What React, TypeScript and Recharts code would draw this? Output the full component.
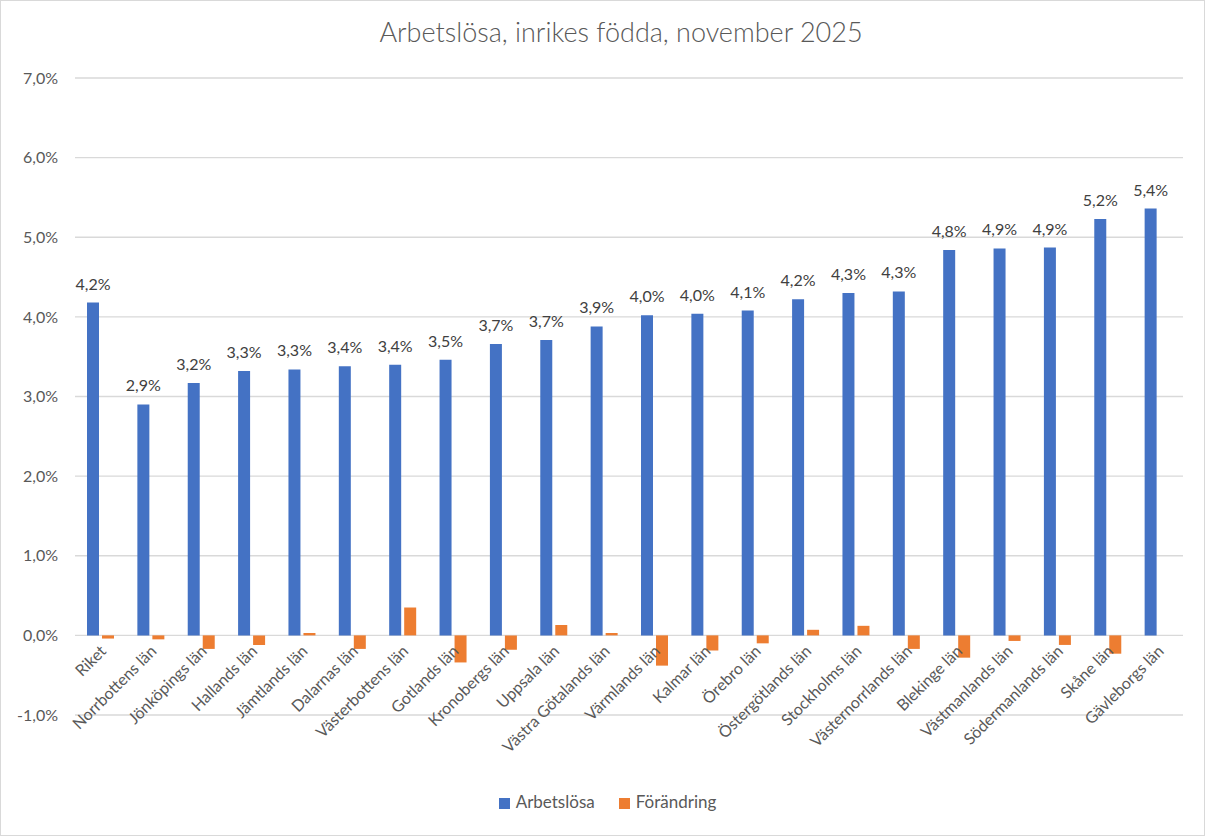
import { BarChart, Bar, XAxis, YAxis, CartesianGrid, Legend, LabelList } from "recharts";

const CATEGORIES = [
  "Riket",
  "Norrbottens län",
  "Jönköpings län",
  "Hallands län",
  "Jämtlands län",
  "Dalarnas län",
  "Västerbottens län",
  "Gotlands län",
  "Kronobergs län",
  "Uppsala län",
  "Västra Götalands län",
  "Värmlands län",
  "Kalmar län",
  "Örebro län",
  "Östergötlands län",
  "Stockholms län",
  "Västernorrlands län",
  "Blekinge län",
  "Västmanlands län",
  "Södermanlands län",
  "Skåne län",
  "Gävleborgs län",
];

// percent
const ARBETSLOSA = [
  4.18, 2.9, 3.17, 3.32, 3.34, 3.38, 3.4, 3.46, 3.66, 3.71, 3.88, 4.02, 4.04,
  4.08, 4.22, 4.3, 4.32, 4.84, 4.86, 4.87, 5.23, 5.36,
];
const FORANDRING = [
  -0.04, -0.05, -0.17, -0.12, 0.03, -0.17, 0.35, -0.34, -0.18, 0.13, 0.03,
  -0.38, -0.19, -0.1, 0.07, 0.12, -0.17, -0.28, -0.07, -0.12, -0.23, 0,
];
const Y_TICKS = [-1, 0, 1, 2, 3, 4, 5, 6, 7];

const Y_MIN = -1;
const Y_MAX = 7;
const W = 1205;
const H = 836;
const PLOT_TOP = 78;
const PLOT_H = 638;
const ZERO_Y = PLOT_TOP + (PLOT_H * Y_MAX) / (Y_MAX - Y_MIN);

const FONT = "Lato, 'Open Sans', sans-serif";
const TEXT = "#595959";

const data = CATEGORIES.map((name, i) => ({
  name,
  arbetslosa: ARBETSLOSA[i],
  forandring: FORANDRING[i],
}));

const pct = (v: number) => v.toFixed(1).replace(".", ",") + "%";

function CategoryTick({ x, payload }: { x?: number; payload?: { value: string } }) {
  return (
    <text
      transform={`translate(${(x ?? 0) + 3},${ZERO_Y + 12}) rotate(-45)`}
      textAnchor="end"
      dy="0.35em"
      fill={TEXT}
      fontSize={16}
      fontFamily={FONT}
    >
      {payload?.value}
    </text>
  );
}

export default function App() {
  return (
    <div
      style={{
        position: "absolute",
        left: 0,
        top: 0,
        width: W,
        height: H,
        boxSizing: "border-box",
        border: "1px solid #d9d9d9",
        background: "#fff",
        fontFamily: FONT,
      }}
    >
      <div
        style={{
          position: "absolute",
          top: 14,
          left: 0,
          width: 1240,
          textAlign: "center",
          fontSize: 27,
          fontWeight: 300,
          color: TEXT,
        }}
      >
        Arbetslösa, inrikes födda, november 2025
      </div>
      <div style={{ position: "absolute", left: -1, top: -1 }}>
        <BarChart
          width={W}
          height={H}
          data={data}
          margin={{ top: PLOT_TOP, right: 22, bottom: 24, left: 0 }}
          barSize={12}
          barGap={3}
        >
          <CartesianGrid vertical={false} stroke="#d9d9d9" strokeWidth={1.3} />
          <XAxis
            dataKey="name"
            interval={0}
            height={76}
            axisLine={false}
            tickLine={false}
            tick={<CategoryTick />}
          />
          <YAxis
            domain={[Y_MIN, Y_MAX]}
            ticks={Y_TICKS}
            width={75}
            axisLine={false}
            tickLine={false}
            tickMargin={11}
            tickFormatter={pct}
            tick={{ fill: TEXT, fontSize: 16, fontFamily: FONT }}
          />
          <Legend
            verticalAlign="bottom"
            iconType="square"
            iconSize={11}
            wrapperStyle={{ fontSize: 17, fontFamily: FONT, paddingLeft: 28 }}
            formatter={(v: string) => (
              <span style={{ color: TEXT, marginLeft: 2, marginRight: 14 }}>{v}</span>
            )}
          />
          <Bar dataKey="arbetslosa" name="Arbetslösa" fill="#4472C4" isAnimationActive={false}>
            <LabelList
              dataKey="arbetslosa"
              position="top"
              offset={13}
              formatter={(v: number) => pct(v)}
              fill="#404040"
              fontSize={16}
              fontFamily={FONT}
            />
          </Bar>
          <Bar dataKey="forandring" name="Förändring" fill="#ED7D31" isAnimationActive={false} />
        </BarChart>
      </div>
    </div>
  );
}
